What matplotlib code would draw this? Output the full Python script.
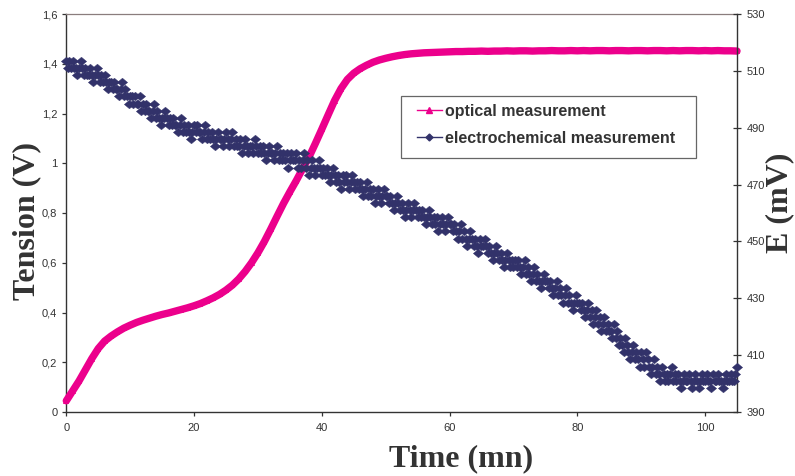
import matplotlib
matplotlib.use("Agg")
import matplotlib.pyplot as plt
from matplotlib.lines import Line2D
from matplotlib.patches import Rectangle
from matplotlib.path import Path
from matplotlib.ticker import FixedLocator, FixedFormatter

plt.rcParams['font.family'] = ['Liberation Sans', 'DejaVu Sans']

# Optical signal (V), sampled once per minute
optical_time = list(range(0, 106))
optical_volts = [
    0.045, 0.085, 0.125, 0.170, 0.215, 0.255, 0.285, 0.305, 0.322, 0.337,
    0.349, 0.360, 0.369, 0.377, 0.385, 0.392, 0.398, 0.405, 0.412, 0.419,
    0.427, 0.436, 0.447, 0.459, 0.473, 0.490, 0.510, 0.535, 0.565, 0.600,
    0.640, 0.685, 0.735, 0.787, 0.838, 0.885, 0.930, 0.978, 1.025, 1.080,
    1.137, 1.195, 1.252, 1.300, 1.337, 1.362, 1.380, 1.394, 1.406, 1.415,
    1.422, 1.428, 1.433, 1.437, 1.440, 1.442, 1.444, 1.445, 1.446, 1.447,
    1.448, 1.449, 1.449, 1.450, 1.450, 1.451, 1.450, 1.451, 1.451, 1.452,
    1.451, 1.452, 1.452, 1.451, 1.452, 1.452, 1.453, 1.452, 1.452, 1.453,
    1.452, 1.453, 1.452, 1.453, 1.453, 1.452, 1.453, 1.453, 1.452, 1.453,
    1.453, 1.452, 1.453, 1.453, 1.452, 1.453, 1.452, 1.453, 1.453, 1.452,
    1.453, 1.452, 1.453, 1.452, 1.452, 1.451,
]

# Electrochemical potential (mV), one reading every quarter minute
# (each row below covers five minutes)
electro_mv = [
    513.5,
    511, 513.5, 511, 513.5, 511, 511, 508.5, 511, 513.5, 511, 508.5, 511, 508.5, 508.5, 511, 508.5, 506, 508.5, 511, 508.5,
    506, 508.5, 506, 508.5, 506, 503.5, 506, 506, 503.5, 506, 503.5, 503.5, 501, 503.5, 506, 501, 503.5, 501, 498.5, 501,
    501, 498.5, 501, 498.5, 498.5, 501, 496, 498.5, 496, 498.5, 496, 496, 493.5, 496, 498.5, 493.5, 496, 493.5, 491, 493.5,
    493.5, 496, 493.5, 491, 493.5, 491, 493.5, 491, 491, 488.5, 491, 493.5, 488.5, 491, 488.5, 491, 488.5, 486, 488.5, 491,
    488.5, 491, 488.5, 488.5, 486, 488.5, 491, 486, 488.5, 486, 488.5, 486, 483.5, 486, 488.5, 486, 486, 483.5, 486, 488.5,
    486, 483.5, 486, 488.5, 483.5, 486, 483.5, 483.5, 486, 481, 483.5, 486, 483.5, 481, 483.5, 483.5, 481, 486, 483.5, 481,
    483.5, 481, 483.5, 481, 478.5, 481, 483.5, 481, 481, 478.5, 481, 483.5, 478.5, 481, 478.5, 481, 478.5, 481, 476, 478.5,
    481, 478.5, 478.5, 481, 476, 478.5, 476, 478.5, 481, 476, 478.5, 473.5, 476, 478.5, 476, 473.5, 476, 478.5, 476, 473.5,
    476, 473.5, 476, 473.5, 471, 473.5, 476, 473.5, 471, 473.5, 471, 468.5, 473.5, 471, 473.5, 471, 468.5, 471, 473.5, 471,
    468.5, 471, 468.5, 471, 468.5, 466, 468.5, 471, 466, 468.5, 466, 468.5, 463.5, 466, 468.5, 466, 463.5, 466, 468.5, 466,
    466, 463.5, 466, 463.5, 461, 463.5, 466, 463.5, 461, 463.5, 461, 458.5, 461, 463.5, 461, 458.5, 461, 463.5, 461, 458.5,
    461, 458.5, 461, 458.5, 456, 458.5, 461, 458.5, 456, 458.5, 456, 458.5, 453.5, 456, 458.5, 456, 453.5, 456, 458.5, 456,
    456, 453.5, 456, 453.5, 451, 453.5, 456, 451, 453.5, 451, 448.5, 451, 453.5, 451, 448.5, 451, 448.5, 446, 451, 448.5,
    448.5, 451, 448.5, 446, 448.5, 446, 443.5, 446, 448.5, 446, 443.5, 446, 443.5, 441, 443.5, 446, 443.5, 441, 443.5, 441,
    443.5, 441, 443.5, 441, 438.5, 441, 443.5, 438.5, 441, 438.5, 436, 438.5, 441, 436, 438.5, 436, 433.5, 436, 438.5, 436,
    436, 433.5, 436, 433.5, 431, 433.5, 436, 431, 433.5, 431, 428.5, 431, 433.5, 428.5, 431, 428.5, 426, 428.5, 431, 428.5,
    428.5, 426, 428.5, 426, 423.5, 426, 428.5, 423.5, 426, 421, 423.5, 426, 421, 423.5, 418.5, 421, 423.5, 418.5, 421, 418.5,
    418.5, 416, 421, 416, 418.5, 413.5, 416, 413.5, 411, 416, 413.5, 411, 408.5, 411, 413.5, 408.5, 411, 408.5, 406, 411,
    408.5, 406, 411, 408.5, 406, 403.5, 406, 408.5, 403.5, 406, 403.5, 401, 406, 403.5, 401, 403.5, 401, 403.5, 406, 401,
    403.5, 401, 403.5, 401, 398.5, 401, 403.5, 401, 401, 403.5, 401, 398.5, 401, 403.5, 401, 398.5, 401, 403.5, 401, 401,
    403.5, 401, 401, 398.5, 403.5, 401, 401, 403.5, 401, 401, 398.5, 401, 403.5, 401, 401, 403.5, 401, 401, 403.5, 406,
]
electro_time = [0.25 * i for i in range(len(electro_mv))]

x_ticks = [0, 20, 40, 60, 80, 100]
left_ticks = [0, 0.2, 0.4, 0.6, 0.8, 1.0, 1.2, 1.4, 1.6]
left_tick_labels = ['0', '0,2', '0,4', '0,6', '0,8', '1', '1,2', '1,4', '1,6']
right_ticks = [390, 410, 430, 450, 470, 490, 510, 530]
series_names = ['optical measurement', 'electrochemical measurement']

PINK = '#EC008C'
NAVY = '#32326A'
TEXT = '#333333'

# slightly flattened diamond marker
wide_diamond = Path([(-1.2, 0), (0, 1), (1.2, 0), (0, -1), (-1.2, 0)],
                    [Path.MOVETO, Path.LINETO, Path.LINETO, Path.LINETO,
                     Path.CLOSEPOLY])

W, H = 795, 476
fig = plt.figure(figsize=(W / 100, H / 100), dpi=100)
ax = fig.add_axes([66.3 / W, 64 / H, (737 - 66.3) / W, 398 / H])
ax2 = ax.twinx()

ax.plot(optical_time, optical_volts, color=PINK, lw=5.3, marker='^',
        markersize=5, markeredgewidth=0, solid_capstyle='round',
        clip_on=False, zorder=3)
ax2.plot(electro_time, electro_mv, linestyle='none', color=NAVY,
         marker=wide_diamond, markersize=7.4, markeredgewidth=0.3,
         markeredgecolor=NAVY, clip_on=False, zorder=3)

ax.set_xlim(0, 105)
ax.set_ylim(0, 1.6)
ax2.set_ylim(390, 530)

ax.xaxis.set_major_locator(FixedLocator(x_ticks))
ax.yaxis.set_major_locator(FixedLocator(left_ticks))
ax.yaxis.set_major_formatter(FixedFormatter(left_tick_labels))
ax2.yaxis.set_major_locator(FixedLocator(right_ticks))

for s in ('left', 'bottom'):
    ax.spines[s].set_color('#333333')
    ax.spines[s].set_linewidth(1.0)
ax.spines['top'].set_color('#8a7d7d')
ax.spines['top'].set_linewidth(0.9)
ax.spines['right'].set_visible(False)
for s in ('left', 'bottom', 'top'):
    ax2.spines[s].set_visible(False)
ax2.spines['right'].set_color('#333333')
ax2.spines['right'].set_linewidth(1.0)

ax.tick_params(axis='y', direction='out', length=3, width=0.9, pad=3.5,
               labelsize=8, color='#333333', labelcolor=TEXT)
ax.tick_params(axis='x', direction='out', length=3, width=0.9, pad=5,
               labelsize=8, color='#333333', labelcolor=TEXT)
ax2.tick_params(axis='y', direction='inout', length=6, width=0.9, pad=4,
                labelsize=8, color='#333333', labelcolor=TEXT)

label_font = dict(family='Liberation Serif', weight='bold', size=23, color=TEXT)
ax.set_xlabel('Time (mn)', **label_font)
ax.xaxis.set_label_coords(461.5 / W, 1 - 459 / H, transform=fig.transFigure)
ax.xaxis.label.set(va='center', ha='center')
ax.set_ylabel('Tension (V)', rotation=90, rotation_mode='default', **label_font)
ax.yaxis.set_label_coords(27 / W, 1 - 221 / H, transform=fig.transFigure)
ax.yaxis.label.set(va='center', ha='center')
ax2.set_ylabel('E (mV)', rotation=90, rotation_mode='default', **label_font)
ax2.yaxis.set_label_coords(780 / W, 1 - 203 / H, transform=fig.transFigure)
ax2.yaxis.label.set(va='center', ha='center')

# Legend box and entries
box = Rectangle((401 / W, 1 - 158 / H), 295 / W, 62 / H,
                transform=fig.transFigure, facecolor='white',
                edgecolor='#666666', linewidth=0.9, zorder=10, clip_on=False)
ax2.add_patch(box)
handles = [
    Line2D([], [], color=PINK, lw=1.0, marker='^', markersize=5),
    Line2D([], [], color=NAVY, lw=1.0, marker='D', markersize=3.5),
]
leg = ax2.legend(handles, series_names, loc='upper left',
                 bbox_to_anchor=(417 / W, 1 - 104 / H),
                 bbox_transform=fig.transFigure, frameon=False,
                 borderpad=0, borderaxespad=0, handlelength=1.56,
                 handletextpad=0.2, labelspacing=0.75,
                 prop=dict(family='Liberation Sans', weight='bold', size=11.5))
leg.set_zorder(11)
for t in leg.get_texts():
    t.set_color(TEXT)

fig.savefig('out.png', dpi=100)
